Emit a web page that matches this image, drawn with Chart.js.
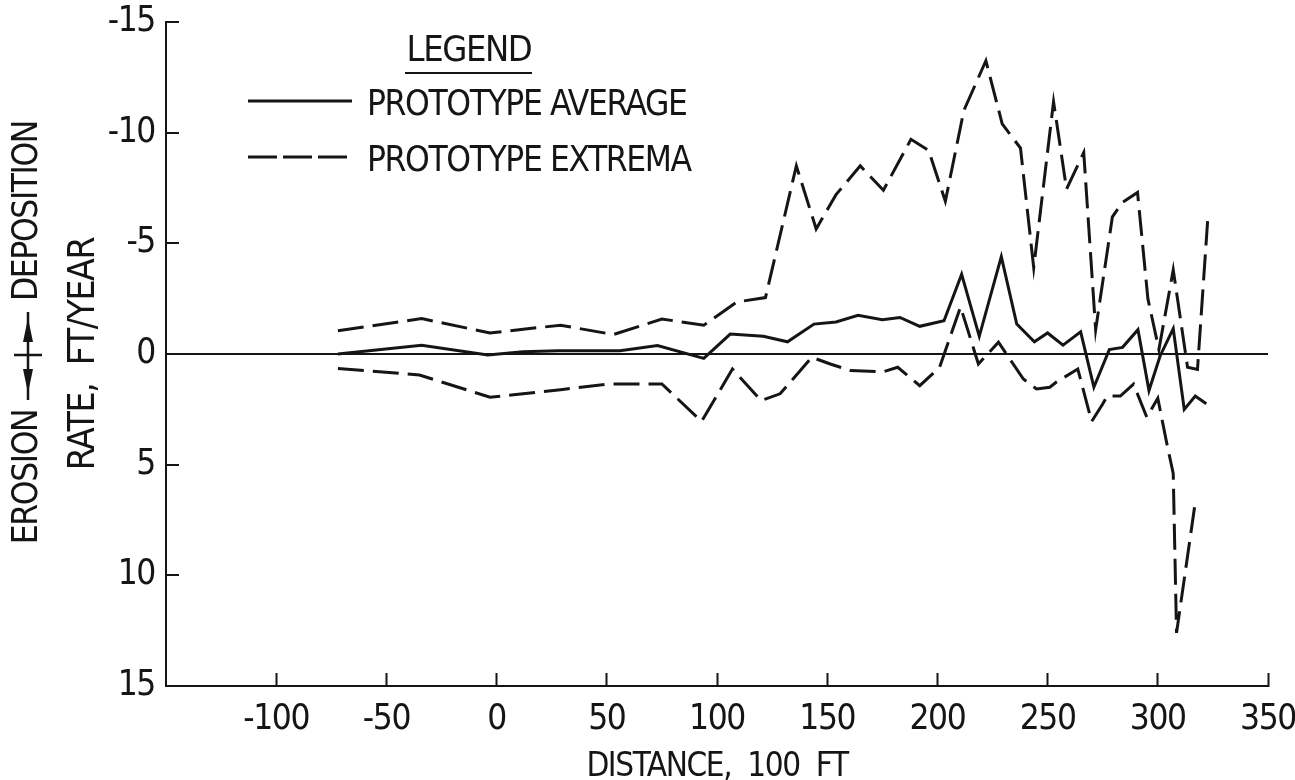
<!DOCTYPE html>
<html><head><meta charset="utf-8">
<script src="https://cdn.jsdelivr.net/npm/chart.js@4.4.1/dist/chart.umd.min.js"></script>
<style>html,body{margin:0;padding:0;background:#fff;}</style>
</head><body>
<canvas id="c" width="1295" height="780" style="width:1295px;height:780px;display:block"></canvas>
<script>
const FONT = "'Liberation Sans Narrow','DejaVu Sans Condensed','Roboto Condensed',sans-serif";
const INK = '#151515';
const SPACING = '-1.4px';

const xTicks = [-100, -50, 0, 50, 100, 150, 200, 250, 300, 350];
const yTicks = [-15, -10, -5, 0, 5, 10, 15];

// PROTOTYPE AVERAGE (solid)
const avgX = [-72,-34,-4,12,28,56,73,94,106,121,132,144,154,164,175,183,192,203,211,219,229,236,244,250,257,265,271,278,284,291,296,301,307,312,317,322];
const avgY = [0,-0.4,0.05,-0.1,-0.15,-0.15,-0.38,0.2,-0.9,-0.8,-0.55,-1.35,-1.45,-1.75,-1.55,-1.65,-1.25,-1.5,-3.6,-0.8,-4.4,-1.35,-0.55,-0.95,-0.4,-1.0,1.5,-0.2,-0.3,-1.1,1.65,0.1,-1.15,2.5,1.9,2.25];

// PROTOTYPE EXTREMA - deposition side (upper dashed)
const maxX = [-72,-34,-3,15,29,53,75,94,109,122,136,145,154,165,175.5,188,196,203.6,212,222,229.4,237.7,243.7,252.7,258.6,266.4,271.8,279.4,284,290.8,295.5,300.5,307,313.5,318,322.6];
const maxY = [-1.05,-1.6,-0.95,-1.15,-1.3,-0.88,-1.58,-1.3,-2.35,-2.55,-8.5,-5.65,-7.2,-8.5,-7.4,-9.7,-9.2,-6.9,-11.0,-13.25,-10.4,-9.3,-3.9,-11.4,-7.45,-9.1,-1.1,-6.2,-6.85,-7.3,-2.5,-0.2,-3.8,0.6,0.7,-6.0];

// PROTOTYPE EXTREMA - erosion side (lower dashed)
const minX = [-72,-35,-3,12,30,51,75,93,107,120,128.6,143,151.4,160.5,175.5,182,192,201,210.5,218.6,227.7,239,245,251,254,263.7,270,275,277,283,289,295,300,304,307,308.5,317];
const minY = [0.65,0.95,1.95,1.8,1.6,1.35,1.35,3.05,0.68,2.1,1.8,0.15,0.45,0.75,0.8,0.6,1.43,0.6,-2.13,0.45,-0.53,1.13,1.58,1.5,1.27,0.68,3.05,2.26,1.9,1.9,1.36,2.85,2.0,4.0,5.4,12.6,6.7];

const pts = (xs, ys) => xs.map((x, i) => ({x: x, y: ys[i]}));

const decor = {
  id: 'decor',
  beforeLayout(chart) { chart.ctx.letterSpacing = SPACING; },
  beforeDraw(chart) { chart.ctx.letterSpacing = SPACING; },
  afterDraw(chart) {
    const ctx = chart.ctx;
    ctx.save();
    ctx.letterSpacing = SPACING;
    ctx.fillStyle = INK; ctx.strokeStyle = INK;
    ctx.textBaseline = 'middle';
    const rot = (text, cx, cy, size) => {
      ctx.save();
      ctx.font = size + 'px ' + FONT;
      ctx.translate(cx, cy);
      ctx.rotate(-Math.PI / 2);
      ctx.textAlign = 'center';
      ctx.fillText(text, 0, 0);
      ctx.restore();
    };
    rot('EROSION', 28, 477, 35);
    rot('DEPOSITION', 28, 211, 35);
    rot('RATE,  FT/YEAR', 84, 354, 37);
    // double arrow symbol between EROSION and DEPOSITION
    ctx.lineWidth = 2.5;
    ctx.beginPath();
    ctx.moveTo(28, 312); ctx.lineTo(28, 400);
    ctx.moveTo(14, 355); ctx.lineTo(42, 355);
    ctx.stroke();
    ctx.beginPath();
    ctx.moveTo(28, 318); ctx.lineTo(23, 342); ctx.lineTo(33, 342); ctx.closePath(); ctx.fill();
    ctx.beginPath();
    ctx.moveTo(28, 393); ctx.lineTo(23, 369); ctx.lineTo(33, 369); ctx.closePath(); ctx.fill();

    // legend
    ctx.textAlign = 'center';
    ctx.font = '36px ' + FONT;
    ctx.fillText('LEGEND', 469, 52);
    ctx.font = '35px ' + FONT;
    ctx.lineWidth = 2;
    ctx.beginPath(); ctx.moveTo(405, 73); ctx.lineTo(532, 73); ctx.stroke();
    ctx.textAlign = 'left';
    ctx.fillText('PROTOTYPE AVERAGE', 367, 106);
    ctx.fillText('PROTOTYPE EXTREMA', 367, 162);
    ctx.lineWidth = 3;
    ctx.beginPath(); ctx.moveTo(248, 101); ctx.lineTo(352, 101); ctx.stroke();
    ctx.setLineDash([29, 6]);
    ctx.beginPath(); ctx.moveTo(248, 157); ctx.lineTo(352, 157); ctx.stroke();
    ctx.restore();
  }
};

const lineStyle = {showLine: true, pointRadius: 0, borderColor: INK, borderWidth: 3, tension: 0, fill: false};

new Chart(document.getElementById('c'), {
  type: 'scatter',
  data: {
    datasets: [
      Object.assign({label: 'PROTOTYPE AVERAGE', data: pts(avgX, avgY)}, lineStyle),
      Object.assign({label: 'PROTOTYPE EXTREMA', data: pts(maxX, maxY), borderDash: [26, 9]}, lineStyle),
      Object.assign({label: 'PROTOTYPE EXTREMA', data: pts(minX, minY), borderDash: [26, 9]}, lineStyle)
    ]
  },
  options: {
    responsive: false,
    animation: false,
    layout: {padding: {top: 22, right: 27, left: 0, bottom: 0}},
    plugins: {legend: {display: false}, tooltip: {enabled: false}},
    scales: {
      x: {
        type: 'linear', min: -150, max: 350,
        afterBuildTicks: s => { s.ticks = xTicks.map(v => ({value: v})); },
        afterFit: s => { s.height = 94; s.paddingLeft = 0; s.paddingRight = 0; },
        ticks: {font: {family: FONT, size: 35}, color: INK, padding: 26, maxRotation: 0, autoSkip: false},
        grid: {drawOnChartArea: false, drawTicks: true, tickLength: -13, tickColor: INK, tickWidth: 2},
        border: {display: true, color: INK, width: 2},
        title: {display: true, text: 'DISTANCE,  100  FT', color: INK, font: {family: FONT, size: 33, lineHeight: 0.75}, padding: 0}
      },
      y: {
        type: 'linear', min: -15, max: 15, reverse: true,
        afterBuildTicks: s => { s.ticks = yTicks.map(v => ({value: v})); },
        afterFit: s => { s.width = 166; s.paddingTop = 0; s.paddingBottom = 0; },
        ticks: {font: {family: FONT, size: 35}, color: INK, padding: 24, autoSkip: false},
        grid: {
          drawOnChartArea: true, drawTicks: true, tickLength: -13, tickColor: INK, tickWidth: 2,
          color: c => (c.tick && c.tick.value === 0) ? INK : 'rgba(0,0,0,0)',
          lineWidth: 2
        },
        border: {display: true, color: INK, width: 2}
      }
    }
  },
  plugins: [decor]
});
</script>
</body></html>
